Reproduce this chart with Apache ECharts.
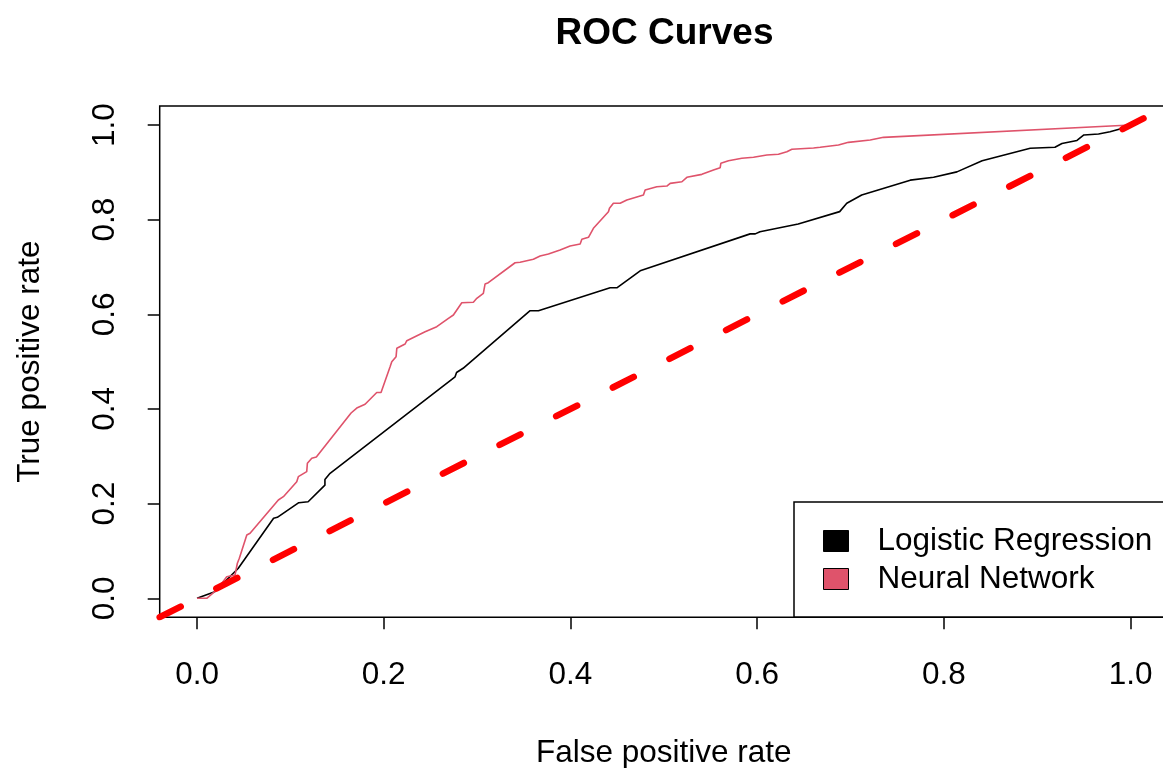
<!DOCTYPE html>
<html>
<head>
<meta charset="utf-8">
<script src="https://cdn.jsdelivr.net/npm/echarts@6/dist/echarts.min.js"></script>
<style>html,body{margin:0;padding:0;background:#fff;overflow:hidden;}#c{width:1163px;height:768px;}</style>
</head>
<body>
<div id="c"></div>
<script>
// ---- data ----
var tickValues = [0, 0.2, 0.4, 0.6, 0.8, 1.0];
var lrFpr = [0, 0.019, 0.044, 0.082, 0.086, 0.109, 0.119, 0.137, 0.137, 0.1425, 0.2764, 0.278, 0.285, 0.3568, 0.3657, 0.4425, 0.4497, 0.4747, 0.5925, 0.598, 0.603, 0.644, 0.6884, 0.696, 0.712, 0.764, 0.789, 0.814, 0.841, 0.8925, 0.919, 0.9265, 0.9426, 0.950, 0.9657, 0.978, 0.9925, 1];
var lrTpr = [0, 0.014, 0.063, 0.169, 0.171, 0.202, 0.204, 0.239, 0.251, 0.264, 0.468, 0.477, 0.486, 0.6077, 0.6077, 0.656, 0.656, 0.692, 0.770, 0.770, 0.7746, 0.791, 0.817, 0.8346, 0.852, 0.8835, 0.8895, 0.901, 0.9246, 0.951, 0.953, 0.961, 0.9675, 0.979, 0.981, 0.9858, 0.9937, 1];
var nnFpr = [0, 0.0104, 0.0211, 0.0318, 0.0407, 0.0432, 0.0453, 0.0533, 0.0568, 0.0871, 0.0925, 0.1068, 0.1085, 0.1175, 0.1182, 0.1229, 0.1278, 0.165, 0.1711, 0.18, 0.1925, 0.1971, 0.2068, 0.2086, 0.2132, 0.214, 0.2229, 0.2247, 0.2443, 0.2568, 0.2693, 0.2746, 0.2836, 0.296, 0.2997, 0.3067, 0.3085, 0.312, 0.3407, 0.3461, 0.3603, 0.3675, 0.3764, 0.3889, 0.3996, 0.4104, 0.4122, 0.4193, 0.4246, 0.4407, 0.4418, 0.446, 0.4532, 0.4604, 0.4782, 0.48, 0.4925, 0.5033, 0.5068, 0.5194, 0.5247, 0.5408, 0.5532, 0.5604, 0.5611, 0.5693, 0.5836, 0.5961, 0.6104, 0.6228, 0.6318, 0.6372, 0.6604, 0.6675, 0.6871, 0.6978, 0.7211, 0.7354, 1];
var nnTpr = [0, 0, 0.0175, 0.0456, 0.0492, 0.074, 0.0845, 0.1337, 0.1373, 0.2077, 0.2147, 0.2464, 0.257, 0.2675, 0.2852, 0.2958, 0.2985, 0.3915, 0.402, 0.41, 0.4348, 0.4348, 0.4893, 0.4999, 0.5105, 0.5282, 0.5373, 0.5443, 0.5633, 0.5738, 0.5916, 0.5986, 0.6245, 0.6256, 0.6338, 0.6444, 0.664, 0.6668, 0.709, 0.7101, 0.7163, 0.7232, 0.7274, 0.7359, 0.7443, 0.7486, 0.7585, 0.7627, 0.7817, 0.8168, 0.824, 0.8346, 0.8346, 0.8415, 0.8521, 0.8627, 0.8697, 0.8711, 0.8768, 0.8802, 0.8895, 0.8958, 0.9049, 0.9098, 0.9191, 0.9246, 0.9297, 0.9318, 0.9366, 0.9381, 0.9436, 0.9487, 0.9514, 0.9529, 0.9578, 0.9634, 0.9683, 0.974, 1];
var refX = [-0.04, 1.04];
var refY = [-0.04, 1.04];
var seriesNames = ['Logistic Regression', 'Neural Network'];

function zip(a, b) { return a.map(function (v, i) { return [v, b[i]]; }); }

var chart = echarts.init(document.getElementById('c'), null, { renderer: 'canvas' });
var font = 'Liberation Sans, Arial, Helvetica, sans-serif';
var fs = 31.5;
var option = {
  animation: false,
  backgroundColor: '#ffffff',
  title: {
    text: 'ROC Curves',
    left: 659.5,
    textAlign: 'center',
    top: 10,
    textStyle: { fontFamily: font, fontWeight: 'bold', fontSize: 37, color: '#000' }
  },
  grid: {
    left: 159.7, top: 106.1, width: 1008.2, height: 511.1,
    outerBoundsMode: 'none',
    show: true, borderColor: '#000', borderWidth: 1.5, backgroundColor: 'transparent',
    containLabel: false
  },
  legend: {
    orient: 'vertical',
    left: 794, top: 502,
    padding: [23, 15, 22, 29],
    itemWidth: 25, itemHeight: 21, itemGap: 6,
    borderColor: '#000', borderWidth: 1.5, backgroundColor: '#fff',
    textStyle: { fontFamily: font, fontSize: fs, color: '#000', padding: [0, 0, 0, 24] },
    data: [
      { name: seriesNames[0], icon: 'rect', itemStyle: { color: '#000000', borderColor: '#000', borderWidth: 1 } },
      { name: seriesNames[1], icon: 'rect', itemStyle: { color: '#DF536B', borderColor: '#000', borderWidth: 1 } }
    ]
  },
  xAxis: {
    type: 'value', min: -0.04, max: 1.04,
    name: 'False positive rate', nameLocation: 'middle', nameGap: 120,
    nameTextStyle: { fontFamily: font, fontSize: fs, color: '#000' },
    axisLine: { show: false, onZero: false },
    axisTick: { show: true, inside: false, customValues: tickValues, length: 12, lineStyle: { color: '#000', width: 1.5 } },
    axisLabel: { customValues: tickValues, margin: 42, fontFamily: font, fontSize: fs, color: '#000',
      formatter: function (v) { return v.toFixed(1); } },
    splitLine: { show: false }
  },
  yAxis: {
    type: 'value', min: -0.04, max: 1.04,
    name: 'True positive rate', nameLocation: 'middle', nameGap: 113, nameRotate: 90,
    nameTextStyle: { fontFamily: font, fontSize: fs, color: '#000' },
    axisLine: { show: false, onZero: false },
    axisTick: { show: true, inside: false, customValues: tickValues, length: 12, lineStyle: { color: '#000', width: 1.5 } },
    axisLabel: { customValues: tickValues, margin: 38, rotate: 90, fontFamily: font, fontSize: fs, color: '#000',
      formatter: function (v) { return v.toFixed(1); } },
    splitLine: { show: false }
  },
  series: [
    {
      name: seriesNames[0], type: 'line', data: zip(lrFpr, lrTpr), showSymbol: false, symbol: 'none',
      lineStyle: { color: '#000000', width: 1.6 }, itemStyle: { color: '#000000' }, z: 3
    },
    {
      name: seriesNames[1], type: 'line', data: zip(nnFpr, nnTpr), showSymbol: false, symbol: 'none',
      lineStyle: { color: '#DF536B', width: 1.6 }, itemStyle: { color: '#DF536B' }, z: 3
    },
    {
      name: 'reference', type: 'line', data: zip(refX, refY), showSymbol: false, symbol: 'none',
      lineStyle: { color: '#FF0000', width: 6.5, type: [23.5, 40], cap: 'round' }, z: 4, silent: true
    }
  ]
};
chart.setOption(option);
</script>
</body>
</html>
